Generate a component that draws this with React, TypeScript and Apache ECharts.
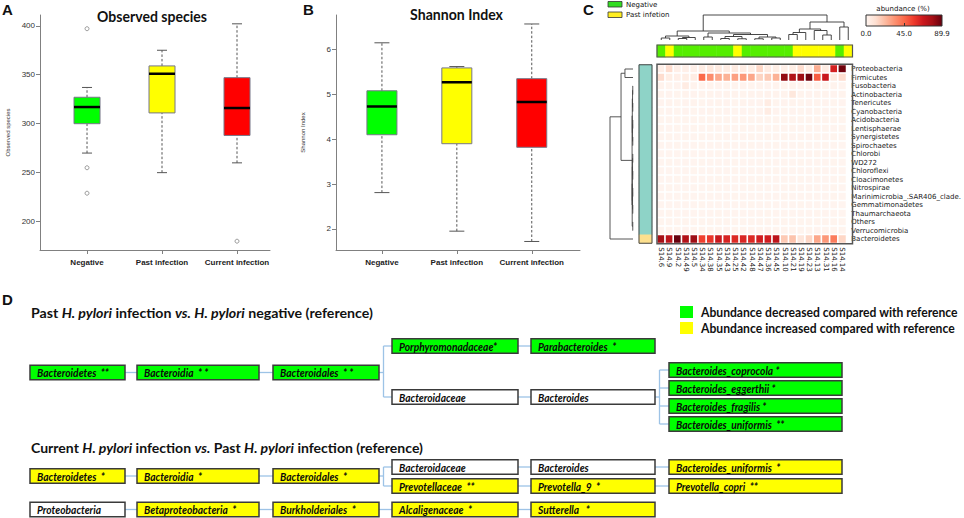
import React, { useEffect, useRef } from "react";
import * as echarts from "echarts";

// ---------------- Panel A / B data ----------------
const GROUPS = ["Negative", "Past infection", "Current infection"];
const GROUP_COLORS = ["#00ff00", "#ffff00", "#ff0000"];
// [lower whisker, Q1, median, Q3, upper whisker]
const OBSERVED_NEGATIVE = [270, 300, 317, 327, 337];
const OBSERVED_PAST = [250, 311, 351, 359, 375];
const OBSERVED_CURRENT = [260, 288, 316, 347, 402];
const OBSERVED_OUTLIERS = [[1, 397], [1, 255], [1, 229], [3, 180]];
const OBSERVED_TICKS = [200, 250, 300, 350, 400];

const SHANNON_NEGATIVE = [2.81, 4.1, 4.73, 5.08, 6.15];
const SHANNON_PAST = [1.95, 3.9, 5.27, 5.59, 5.62];
const SHANNON_CURRENT = [1.72, 3.82, 4.83, 5.35, 6.57];
const SHANNON_TICKS = [2, 3, 4, 5, 6];

// ---------------- Panel C data ----------------
const SAMPLES = ["S14.6", "S14.9", "S14.2", "S14.49", "S14.5", "S14.34", "S14.38", "S14.35", "S14.43", "S14.25", "S14.42", "S14.48", "S14.47", "S14.36", "S14.45", "S14.10", "S14.21", "S14.19", "S14.23", "S14.13", "S14.31", "S14.16", "S14.14"];
// 0 = Negative, 1 = Past infetion
const SAMPLE_GROUP = [0, 1, 0, 0, 0, 0, 0, 0, 0, 1, 0, 0, 0, 0, 0, 0, 1, 1, 1, 1, 1, 0, 1];
const PHYLA = ["Proteobacteria", "Firmicutes", "Fusobacteria", "Actinobacteria", "Tenericutes", "Cyanobacteria", "Acidobacteria", "Lentisphaerae", "Synergistetes", "Spirochaetes", "Chlorobi", "WD272", "Chloroflexi", "Cloacimonetes", "Nitrospirae", "Marinimicrobia_.SAR406_clade.", "Gemmatimonadetes", "Thaumarchaeota", "Others", "Verrucomicrobia", "Bacteroidetes"];
// 2 = cluster 1 (teal), 3 = cluster 2 (peach)
const PHYLUM_CLUSTER = [2, 2, 2, 2, 2, 2, 2, 2, 2, 2, 2, 2, 2, 2, 2, 2, 2, 2, 2, 2, 3];

const PROTEOBACTERIA = [3, 12, 3, 3, 3, 5, 7, 6, 5, 6, 5, 4, 14, 5, 4, 3, 4, 12, 4, 26, 5, 65, 88];
const FIRMICUTES = [12, 4, 3, 4, 5, 45, 35, 28, 25, 30, 32, 28, 15, 18, 25, 82, 75, 80, 88, 48, 68, 6, 12];
const FUSOBACTERIA = [1.2, 0.8, 0.9, 5, 1, 0.7, 1.1, 0.9, 0.8, 1, 0.9, 0.8, 1.2, 0.9, 1, 0.8, 1.3, 0.9, 0.7, 1, 0.8, 1.1, 0.9];
const ACTINOBACTERIA = [1, 0.9, 0.8, 1.2, 0.9, 1.1, 1, 0.9, 1.2, 1, 0.8, 1.1, 1, 1.4, 1, 1.2, 7, 1.1, 0.9, 1, 1.2, 0.9, 1];
const TENERICUTES = [0.9, 1, 0.8, 0.9, 1, 0.8, 0.9, 1.1, 0.9, 0.8, 1, 0.9, 0.9, 5, 0.8, 0.9, 1, 0.8, 0.9, 1, 0.9, 0.8, 0.9];
const CYANOBACTERIA = [0.8, 0.9, 0.8, 0.9, 0.8, 0.9, 1, 0.8, 0.9, 0.8, 0.9, 0.8, 0.9, 5, 0.9, 0.8, 0.9, 0.8, 0.9, 0.8, 0.9, 0.8, 0.8];
const ACIDOBACTERIA = [0.6, 0.7, 0.6, 0.7, 0.6, 0.7, 0.6, 0.7, 0.6, 0.7, 0.6, 0.7, 0.6, 0.7, 0.6, 0.7, 0.6, 0.7, 0.6, 0.7, 0.6, 0.7, 0.6];
const LENTISPHAERAE = [0.6, 0.5, 0.6, 0.5, 0.6, 0.5, 0.6, 0.5, 0.6, 0.5, 0.6, 0.5, 0.6, 0.5, 0.6, 0.5, 0.6, 0.5, 0.6, 0.5, 0.6, 0.5, 0.6];
const SYNERGISTETES = [0.5, 0.6, 0.5, 0.6, 0.5, 0.6, 0.5, 0.6, 0.5, 0.6, 0.5, 0.6, 0.5, 0.6, 0.5, 0.6, 0.5, 0.6, 0.5, 0.6, 0.5, 0.6, 0.5];
const SPIROCHAETES = [0.5, 0.5, 0.6, 0.5, 0.5, 0.6, 0.5, 0.5, 0.6, 0.5, 0.5, 0.6, 0.5, 0.5, 0.6, 0.5, 0.5, 0.6, 0.5, 0.5, 0.6, 0.5, 0.5];
const CHLOROBI = [0.5, 0.5, 0.5, 0.6, 0.5, 0.5, 0.5, 0.6, 0.5, 0.5, 0.5, 0.6, 0.5, 0.5, 0.5, 0.6, 0.5, 0.5, 0.5, 0.6, 0.5, 0.5, 0.5];
const WD272 = [0.5, 0.6, 0.5, 0.5, 0.5, 0.6, 0.5, 0.5, 0.5, 0.6, 0.5, 0.5, 0.5, 0.6, 0.5, 0.5, 0.5, 0.6, 0.5, 0.5, 0.5, 0.6, 0.5];
const CHLOROFLEXI = [0.5, 0.5, 0.5, 0.5, 0.6, 0.5, 0.5, 0.5, 0.5, 0.6, 0.5, 0.5, 0.5, 0.5, 0.6, 0.5, 0.5, 0.5, 0.5, 0.6, 0.5, 0.5, 0.5];
const CLOACIMONETES = [0.5, 0.5, 0.6, 0.5, 0.5, 0.5, 0.5, 0.6, 0.5, 0.5, 0.5, 0.5, 0.6, 0.5, 0.5, 0.5, 0.5, 0.6, 0.5, 0.5, 0.5, 0.5, 0.6];
const NITROSPIRAE = [0.5, 0.6, 0.5, 0.5, 0.5, 0.5, 0.6, 0.5, 0.5, 0.5, 0.5, 0.6, 0.5, 0.5, 0.5, 0.5, 0.6, 0.5, 0.5, 0.5, 0.5, 0.6, 0.5];
const MARINIMICROBIA = [0.5, 0.5, 0.5, 0.6, 0.5, 0.5, 0.5, 0.5, 0.5, 0.6, 0.5, 0.5, 0.5, 0.5, 0.5, 0.6, 0.5, 0.5, 0.5, 0.5, 0.5, 0.6, 0.5];
const GEMMATIMONADETES = [0.5, 0.5, 0.5, 0.5, 0.5, 0.6, 0.5, 0.5, 0.5, 0.5, 0.5, 0.6, 0.5, 0.5, 0.5, 0.5, 0.5, 0.6, 0.5, 0.5, 0.5, 0.5, 0.5];
const THAUMARCHAEOTA = [0.5, 0.6, 0.5, 0.5, 0.5, 0.5, 0.5, 0.6, 0.5, 0.5, 0.5, 0.5, 0.5, 0.6, 0.5, 0.5, 0.5, 0.5, 0.5, 0.6, 0.5, 0.5, 0.5];
const OTHERS = [0.7, 0.6, 0.7, 0.6, 0.7, 0.6, 0.7, 0.6, 0.7, 0.6, 0.7, 0.6, 0.7, 0.6, 0.7, 0.6, 0.7, 0.6, 0.7, 0.6, 0.7, 0.6, 0.7];
const VERRUCOMICROBIA = [0.8, 0.6, 0.7, 0.9, 0.6, 0.8, 0.7, 0.6, 0.9, 0.7, 0.6, 0.8, 0.7, 0.9, 0.6, 0.7, 0.8, 0.6, 0.7, 0.9, 0.6, 0.8, 0.7];
const BACTEROIDETES = [78, 72, 89.9, 75, 80, 55, 58, 68, 64, 62, 63, 62, 66, 66, 72, 18, 20, 8, 14, 28, 32, 40, 14];
const ABUNDANCE_ROWS = [PROTEOBACTERIA, FIRMICUTES, FUSOBACTERIA, ACTINOBACTERIA, TENERICUTES, CYANOBACTERIA, ACIDOBACTERIA, LENTISPHAERAE, SYNERGISTETES, SPIROCHAETES, CHLOROBI, WD272, CHLOROFLEXI, CLOACIMONETES, NITROSPIRAE, MARINIMICROBIA, GEMMATIMONADETES, THAUMARCHAEOTA, OTHERS, VERRUCOMICROBIA, BACTEROIDETES];
const ABUNDANCE_MAX = 89.9;
const COLORBAR_LABELS = [0, 45, 89.9];

// dendrogram linkages: [childA, childB, height(0..1)], node ids continue after leaves
const SAMPLE_LINKAGE = [
  [0, 1, 0.08], [2, 3, 0.06], [24, 4, 0.1], [23, 25, 0.16],
  [5, 6, 0.12], [7, 8, 0.06], [9, 10, 0.05], [28, 29, 0.14], [11, 12, 0.05], [13, 14, 0.08], [31, 32, 0.12], [30, 33, 0.22], [27, 34, 0.28],
  [26, 35, 0.36],
  [15, 16, 0.22], [37, 17, 0.3], [19, 20, 0.2], [18, 39, 0.38], [38, 40, 0.44], [21, 22, 0.52], [41, 42, 0.72],
  [36, 43, 1.0],
];
const PHYLUM_LINKAGE = [
  [0, 1, 0.35],
  [2, 3, 0.01], [4, 5, 0.01], [6, 7, 0.01], [8, 9, 0.01], [10, 11, 0.01], [12, 13, 0.01], [14, 15, 0.01], [16, 17, 0.01], [18, 19, 0.01],
  [22, 23, 0.02], [24, 25, 0.02], [31, 32, 0.03],
  [26, 27, 0.02], [28, 29, 0.02], [34, 35, 0.03], [36, 30, 0.035],
  [33, 37, 0.04],
  [21, 38, 0.52],
  [39, 20, 1.0],
];

// ---------------- Panel D data ----------------
const PAST_HEADING: [string, boolean][] = [["Past ", false], ["H. pylori", true], [" infection ", false], ["vs.", true], [" ", false], ["H. pylori", true], [" negative (reference)", false]];
const CURRENT_HEADING: [string, boolean][] = [["Current ", false], ["H. pylori", true], [" infection ", false], ["vs.", true], [" Past ", false], ["H. pylori", true], [" infection (reference)", false]];
const LEGEND_D = ["Abundance decreased compared with reference", "Abundance increased compared with reference"];
const PAST_LABELS = ["Bacteroidetes  **", "Bacteroidia  * *", "Bacteroidales  * *", "Porphyromonadaceae*", "Parabacteroides  *", "Bacteroidaceae", "Bacteroides", "Bacteroides_coprocola *", "Bacteroides_eggerthii *", "Bacteroides_fragilis *", "Bacteroides_uniformis  **"];
const PAST_STATUS = ["down", "down", "down", "down", "down", "none", "none", "down", "down", "down", "down"];
const PAST_EDGES = [[0, 1], [1, 2], [2, 3], [2, 5], [3, 4], [5, 6], [6, 7], [6, 8], [6, 9], [6, 10]];
const CURRENT_LABELS = ["Bacteroidetes  *", "Bacteroidia  *", "Bacteroidales  *", "Bacteroidaceae", "Prevotellaceae  **", "Bacteroides", "Prevotella_9  *", "Bacteroides_uniformis  *", "Prevotella_copri  **", "Proteobacteria", "Betaproteobacteria  *", "Burkholderiales  *", "Alcaligenaceae  *", "Sutterella   *"];
const CURRENT_STATUS = ["up", "up", "up", "none", "up", "none", "up", "up", "up", "none", "up", "up", "up", "up"];
const CURRENT_EDGES = [[0, 1], [1, 2], [2, 3], [2, 4], [3, 5], [4, 6], [5, 7], [6, 8], [9, 10], [10, 11], [11, 12], [12, 13]];

// ---------------- layout / style ----------------
const STATUS_FILL: Record<string, string> = { down: "#00ff00", up: "#ffff00", none: "#ffffff" };
const D_COLUMNS = [[30, 125], [137, 259], [273, 379], [392, 518], [531, 655], [669, 842]];
const PAST_LAYOUT = [[0, 372.5], [1, 372.5], [2, 372.5], [3, 346], [4, 346], [3, 397], [4, 397], [5, 370], [5, 388], [5, 406], [5, 424]];
const CURRENT_LAYOUT = [[0, 476], [1, 476], [2, 476], [3, 467], [3, 486], [4, 467], [4, 486], [5, 467], [5, 486], [0, 509.5], [1, 509.5], [2, 509.5], [3, 509.5], [4, 509.5]];
const BOX_H = 14.5;
const REDS = ["#fff5f0", "#fee0d2", "#fcbba1", "#fc9272", "#fb6a4a", "#ef3b2c", "#cb181d", "#a50f15", "#67000d"];
const HM = { left: 657, top: 64.75, width: 195.5, height: 178.5 };
const STRIP = { left: 657, top: 45, width: 195.5, height: 12 };
const ROWSTRIP = { left: 639, top: 64.75, width: 13, height: 178.5 };
const CBAR = { left: 866, top: 15, width: 76, height: 11 };
const CAL = "Lato";
const SMALL = "DejaVu Sans";

let ctx2d: CanvasRenderingContext2D | null = null;
function textWidth(str: string, font: string) {
  if (!ctx2d) ctx2d = document.createElement("canvas").getContext("2d");
  if (!ctx2d) return str.length * 6;
  ctx2d.font = font;
  return ctx2d.measureText(str).width;
}
function richFitText(x: number, y: number, segs: [string, boolean][], size: number, target: number, align = "left") {
  let w = 0;
  segs.forEach(([t, it]) => { w += textWidth(t, `${it ? "italic " : ""}bold ${size}px ${CAL}`); });
  const base = { fontFamily: CAL, fontSize: size, fontWeight: "bold", fill: "#111", color: "#111" };
  return {
    type: "text", x, y, scaleX: target / w, z: 100,
    style: {
      text: segs.map(([t, it]) => `{${it ? "i" : "n"}|${t}}`).join(""),
      rich: { n: { ...base }, i: { ...base, fontStyle: "italic" } },
      fontFamily: CAL, fontSize: size, fontWeight: "bold", fill: "#111",
      align, textAlign: align, verticalAlign: "middle", textVerticalAlign: "middle",
    },
  };
}
function plainText(x: number, y: number, text: string, size: number, family: string, weight = "normal", align = "left", vAlign = "middle") {
  return {
    type: "text", x, y, z: 100,
    style: { text, fontSize: size, fontFamily: family, fontWeight: weight, fill: "#111", align, textAlign: align, verticalAlign: vAlign, textVerticalAlign: vAlign },
  };
}

function linkageSegments(leafCount: number, linkage: number[][]) {
  const pos: number[] = [];
  const ht: number[] = [];
  for (let i = 0; i < leafCount; i++) { pos[i] = i + 0.5; ht[i] = 0; }
  const segs: number[][] = [];
  linkage.forEach(([a, b, h], k) => {
    const id = leafCount + k;
    pos[id] = (pos[a] + pos[b]) / 2;
    ht[id] = h;
    segs.push([pos[a], ht[a], pos[a], h]);
    segs.push([pos[b], ht[b], pos[b], h]);
    segs.push([pos[a], h, pos[b], h]);
  });
  return segs;
}

function buildTree(labels: string[], status: string[], edges: number[][], layout: number[][]) {
  const els: any[] = [];
  const boxes = labels.map((_, i) => {
    const [col, yc] = layout[i];
    return { x0: D_COLUMNS[col][0], x1: D_COLUMNS[col][1], yc };
  });
  const kids: Record<number, number[]> = {};
  edges.forEach(([p, c]) => { (kids[p] = kids[p] || []).push(c); });
  const lineStyle = { stroke: "#9dc3e6", lineWidth: 1.3, fill: null };
  Object.keys(kids).forEach((k) => {
    const p = boxes[+k];
    const ch = kids[+k].map((c) => boxes[c]);
    if (ch.length === 1 && ch[0].yc === p.yc) {
      els.push({ type: "line", z: 90, shape: { x1: p.x1, y1: p.yc, x2: ch[0].x0, y2: p.yc }, style: lineStyle });
    } else {
      const ex = p.x1 + 4.5;
      const ys = ch.map((c) => c.yc).concat([p.yc]);
      els.push({ type: "line", z: 90, shape: { x1: p.x1, y1: p.yc, x2: ex, y2: p.yc }, style: lineStyle });
      els.push({ type: "line", z: 90, shape: { x1: ex, y1: Math.min(...ys), x2: ex, y2: Math.max(...ys) }, style: lineStyle });
      ch.forEach((c) => els.push({ type: "line", z: 90, shape: { x1: ex, y1: c.yc, x2: c.x0, y2: c.yc }, style: lineStyle }));
    }
  });
  boxes.forEach((b, i) => {
    els.push({
      type: "rect", z: 95,
      shape: { x: b.x0, y: b.yc - BOX_H / 2, width: b.x1 - b.x0, height: BOX_H },
      style: { fill: STATUS_FILL[status[i]], stroke: "#3a3a3a", lineWidth: 1.5 },
    });
    els.push({
      type: "text", z: 100, x: b.x0 + 7, y: b.yc + 0.5, scaleX: 0.93,
      style: { text: labels[i], fontFamily: CAL, fontSize: 11, fontWeight: "bold", fontStyle: "italic", fill: "#0a0a0a", align: "left", textAlign: "left", verticalAlign: "middle", textVerticalAlign: "middle" },
    });
  });
  return els;
}

function boxRenderer(halfW: number, capHalf: number) {
  return (params: any, api: any) => {
    const x = api.value(0);
    const p = [1, 2, 3, 4, 5].map((d) => api.coord([x, api.value(d)]));
    const cx = p[0][0];
    const color = GROUP_COLORS[params.dataIndex];
    const dash = { stroke: "#555", lineWidth: 1, lineDash: [2.5, 2] };
    const solid = { stroke: "#555", lineWidth: 1 };
    return {
      type: "group",
      children: [
        { type: "line", shape: { x1: cx, y1: p[0][1], x2: cx, y2: p[1][1] }, style: dash },
        { type: "line", shape: { x1: cx, y1: p[3][1], x2: cx, y2: p[4][1] }, style: dash },
        { type: "line", shape: { x1: cx - capHalf, y1: p[0][1], x2: cx + capHalf, y2: p[0][1] }, style: solid },
        { type: "line", shape: { x1: cx - capHalf, y1: p[4][1], x2: cx + capHalf, y2: p[4][1] }, style: solid },
        { type: "rect", shape: { x: cx - halfW, y: p[3][1], width: halfW * 2, height: p[1][1] - p[3][1] }, style: { fill: color, stroke: "#777788", lineWidth: 1 } },
        { type: "line", shape: { x1: cx - halfW, y1: p[2][1], x2: cx + halfW, y2: p[2][1] }, style: { stroke: "#000", lineWidth: 2.5 } },
      ],
    };
  };
}

function segRenderer(color: string, width: number) {
  return (params: any, api: any) => {
    const a = api.coord([api.value(0), api.value(1)]);
    const b = api.coord([api.value(2), api.value(3)]);
    return { type: "line", shape: { x1: a[0], y1: a[1], x2: b[0], y2: b[1] }, style: { stroke: color, lineWidth: width } };
  };
}

function boxAxes(gridIndex: number, min: number, max: number, ymin: number, ymax: number, ticks: number[], name: string) {
  const axisColor = "#808080";
  return {
    x: {
      gridIndex, type: "value", min, max,
      axisLine: { show: true, onZero: false, lineStyle: { color: axisColor } },
      axisTick: { show: true, customValues: [1, 2, 3], length: 4, lineStyle: { color: axisColor } },
      axisLabel: { customValues: [1, 2, 3], formatter: (v: number) => GROUPS[Math.round(v) - 1] || "", fontSize: 8, fontWeight: "bold", color: "#222", margin: 8, fontFamily: "Liberation Sans" },
      splitLine: { show: false },
    },
    y: {
      gridIndex, type: "value", min: ymin, max: ymax,
      name, nameLocation: "middle", nameGap: 29, nameTextStyle: { fontSize: 6, color: "#333", fontFamily: "Liberation Sans" },
      axisLine: { show: true, onZero: false, lineStyle: { color: axisColor } },
      axisTick: { show: true, customValues: ticks, length: 4, lineStyle: { color: axisColor } },
      axisLabel: { customValues: ticks, fontSize: 8, color: "#333", margin: 5, fontFamily: "Liberation Sans" },
      splitLine: { show: false },
    },
  };
}

export default function App() {
  const ref = useRef<HTMLDivElement>(null);
  useEffect(() => {
    if (!ref.current) return;
    const chart = echarts.init(ref.current, null, { renderer: "svg" });

    const obsBoxes = [OBSERVED_NEGATIVE, OBSERVED_PAST, OBSERVED_CURRENT].map((b, i) => [i + 1, ...b]);
    const shaBoxes = [SHANNON_NEGATIVE, SHANNON_PAST, SHANNON_CURRENT].map((b, i) => [i + 1, ...b]);
    const hmData: number[][] = [];
    ABUNDANCE_ROWS.forEach((row, r) => row.forEach((v, c) => hmData.push([c, r, v])));
    const stripData = SAMPLE_GROUP.map((g, c) => [c, 0, g]);
    const rowStripData = PHYLUM_CLUSTER.map((g, r) => [0, r, g]);
    const topSegs = linkageSegments(SAMPLES.length, SAMPLE_LINKAGE);
    const leftSegs = linkageSegments(PHYLA.length, PHYLUM_LINKAGE).map(([p1, h1, p2, h2]) => [h1, p1, h2, p2]);

    const A = boxAxes(0, 0.373, 3.44, 171, 411, OBSERVED_TICKS, "Observed species");
    const B = boxAxes(1, 0.387, 3.644, 1.53, 6.77, SHANNON_TICKS, "Shannon Index");
    B.y.nameGap = 30;

    const hidden = (gridIndex: number, extra: any = {}) => ({ gridIndex, show: false, ...extra });

    const graphic: any[] = [
      plainText(2, 2, "A", 15, "Liberation Sans", "bold", "left", "top"),
      plainText(303, 2, "B", 15, "Liberation Sans", "bold", "left", "top"),
      plainText(583, 2, "C", 15, "Liberation Sans", "bold", "left", "top"),
      plainText(2, 292, "D", 15, "Liberation Sans", "bold", "left", "top"),
      richFitText(152, 15.5, [["Observed species", false]], 15.5, 110, "center"),
      richFitText(456.5, 14, [["Shannon Index", false]], 15.5, 93, "center"),
      // panel C legend
      { type: "rect", z: 100, shape: { x: 608, y: 1.5, width: 14, height: 5.5 }, style: { fill: "#33dd22", stroke: "#333", lineWidth: 0.8 } },
      { type: "rect", z: 100, shape: { x: 608, y: 12, width: 14, height: 5.5 }, style: { fill: "#ffee22", stroke: "#333", lineWidth: 0.8 } },
      plainText(626, 4.5, "Negative", 7, SMALL),
      plainText(626, 15, "Past infetion", 7, SMALL),
      plainText(903, 8.5, "abundance (%)", 7, SMALL, "normal", "center"),
      {
        type: "rect", z: 1, shape: { x: CBAR.left, y: CBAR.top, width: CBAR.width, height: CBAR.height },
        style: {
          fill: new echarts.graphic.LinearGradient(0, 0, 1, 0, REDS.map((c, i) => ({ offset: i / (REDS.length - 1), color: c }))),
          stroke: "#333", lineWidth: 1,
        },
      },
      // frames
      { type: "rect", z: 100, shape: { x: HM.left, y: HM.top - 0.5, width: HM.width, height: HM.height + 1 }, style: { fill: null, stroke: "#555", lineWidth: 1.5 } },
      { type: "rect", z: 100, shape: { x: STRIP.left, y: STRIP.top, width: STRIP.width, height: STRIP.height }, style: { fill: null, stroke: "#555", lineWidth: 1.2 } },
      { type: "rect", z: 100, shape: { x: ROWSTRIP.left, y: ROWSTRIP.top, width: ROWSTRIP.width, height: ROWSTRIP.height }, style: { fill: null, stroke: "#444", lineWidth: 1 } },
      // panel D
      richFitText(31, 313, PAST_HEADING, 13.5, 342),
      richFitText(31, 448, CURRENT_HEADING, 13.5, 392),
      { type: "rect", z: 100, shape: { x: 680, y: 306, width: 13, height: 12 }, style: { fill: "#00ff00" } },
      { type: "rect", z: 100, shape: { x: 680, y: 322, width: 13, height: 12 }, style: { fill: "#ffff00" } },
      richFitText(701, 312.5, [[LEGEND_D[0], false]], 12.5, 257),
      richFitText(701, 328.5, [[LEGEND_D[1], false]], 12.5, 254),
      ...buildTree(PAST_LABELS, PAST_STATUS, PAST_EDGES, PAST_LAYOUT),
      ...buildTree(CURRENT_LABELS, CURRENT_STATUS, CURRENT_EDGES, CURRENT_LAYOUT),
    ];

    const option: any = {
      animation: false,
      backgroundColor: "#fff",
      textStyle: { fontFamily: "Liberation Sans" },
      grid: [
        { left: 40, top: 15, width: 230, height: 235 },
        { left: 336, top: 15, width: 244, height: 235 },
        { ...HM },
        { ...STRIP },
        { ...ROWSTRIP },
        { left: 657, top: 15, width: 195.5, height: 25 },
        { left: 610, top: 64.75, width: 23, height: 178.5 },
        { ...CBAR },
      ],
      xAxis: [
        A.x,
        B.x,
        {
          gridIndex: 2, type: "category", data: SAMPLES, position: "bottom",
          axisLine: { show: false }, axisTick: { show: false }, splitLine: { show: false },
          axisLabel: { rotate: -90, interval: 0, fontSize: 7, color: "#222", margin: 4, fontFamily: SMALL },
        },
        hidden(3, { type: "category", data: SAMPLES }),
        hidden(4, { type: "category", data: ["cluster"] }),
        hidden(5, { type: "value", min: 0, max: SAMPLES.length }),
        hidden(6, { type: "value", min: 0, max: 1, inverse: true }),
        {
          gridIndex: 7, type: "value", min: 0, max: ABUNDANCE_MAX, z: 50,
          axisLine: { show: false }, splitLine: { show: false },
          axisTick: { show: true, inside: true, length: 3, customValues: [45], lineStyle: { color: "#333" } },
          axisLabel: { customValues: COLORBAR_LABELS, formatter: (v: number) => v.toFixed(1), fontSize: 7, color: "#222", margin: 4, fontFamily: SMALL },
        },
      ],
      yAxis: [
        A.y,
        B.y,
        {
          gridIndex: 2, type: "category", data: PHYLA, inverse: true, position: "right",
          axisLine: { show: false }, axisTick: { show: false }, splitLine: { show: false },
          axisLabel: { interval: 0, fontSize: 7, color: "#222", margin: 5, fontFamily: SMALL },
        },
        hidden(3, { type: "category", data: ["group"] }),
        hidden(4, { type: "category", data: PHYLA, inverse: true }),
        hidden(5, { type: "value", min: 0, max: 1 }),
        hidden(6, { type: "value", min: 0, max: PHYLA.length, inverse: true }),
        hidden(7, { type: "value", min: 0, max: 1 }),
      ],
      visualMap: [
        { type: "continuous", show: false, seriesIndex: 3, dimension: 2, min: 0, max: ABUNDANCE_MAX, inRange: { color: REDS } },
        {
          type: "piecewise", show: false, seriesIndex: [4, 5], dimension: 2,
          pieces: [{ value: 0, color: "#55ee00" }, { value: 1, color: "#ffff00" }, { value: 2, color: "#8ed3c7" }, { value: 3, color: "#fde08e" }],
        },
      ],
      series: [
        { type: "custom", xAxisIndex: 0, yAxisIndex: 0, data: obsBoxes, encode: { x: 0, y: [1, 2, 3, 4, 5] }, renderItem: boxRenderer(13, 5) },
        {
          type: "scatter", xAxisIndex: 0, yAxisIndex: 0, data: OBSERVED_OUTLIERS, symbol: "circle", symbolSize: 4,
          itemStyle: { color: "#fff", borderColor: "#666", borderWidth: 0.8 },
        },
        { type: "custom", xAxisIndex: 1, yAxisIndex: 1, data: shaBoxes, encode: { x: 0, y: [1, 2, 3, 4, 5] }, renderItem: boxRenderer(15, 7.5) },
        {
          type: "heatmap", xAxisIndex: 2, yAxisIndex: 2, data: hmData,
          itemStyle: { borderColor: "#fff", borderWidth: 1.6 },
        },
        { type: "heatmap", xAxisIndex: 3, yAxisIndex: 3, data: stripData },
        { type: "heatmap", xAxisIndex: 4, yAxisIndex: 4, data: rowStripData },
        { type: "custom", xAxisIndex: 5, yAxisIndex: 5, data: topSegs, encode: { x: [0, 2], y: [1, 3] }, renderItem: segRenderer("#333", 0.9) },
        { type: "custom", xAxisIndex: 6, yAxisIndex: 6, data: leftSegs, encode: { x: [0, 2], y: [1, 3] }, renderItem: segRenderer("#444", 0.9) },
      ],
      graphic,
    };
    chart.setOption(option);
    return () => chart.dispose();
  }, []);
  return <div ref={ref} style={{ position: "absolute", left: 0, top: 0, width: 964, height: 518, background: "#fff" }} />;
}
